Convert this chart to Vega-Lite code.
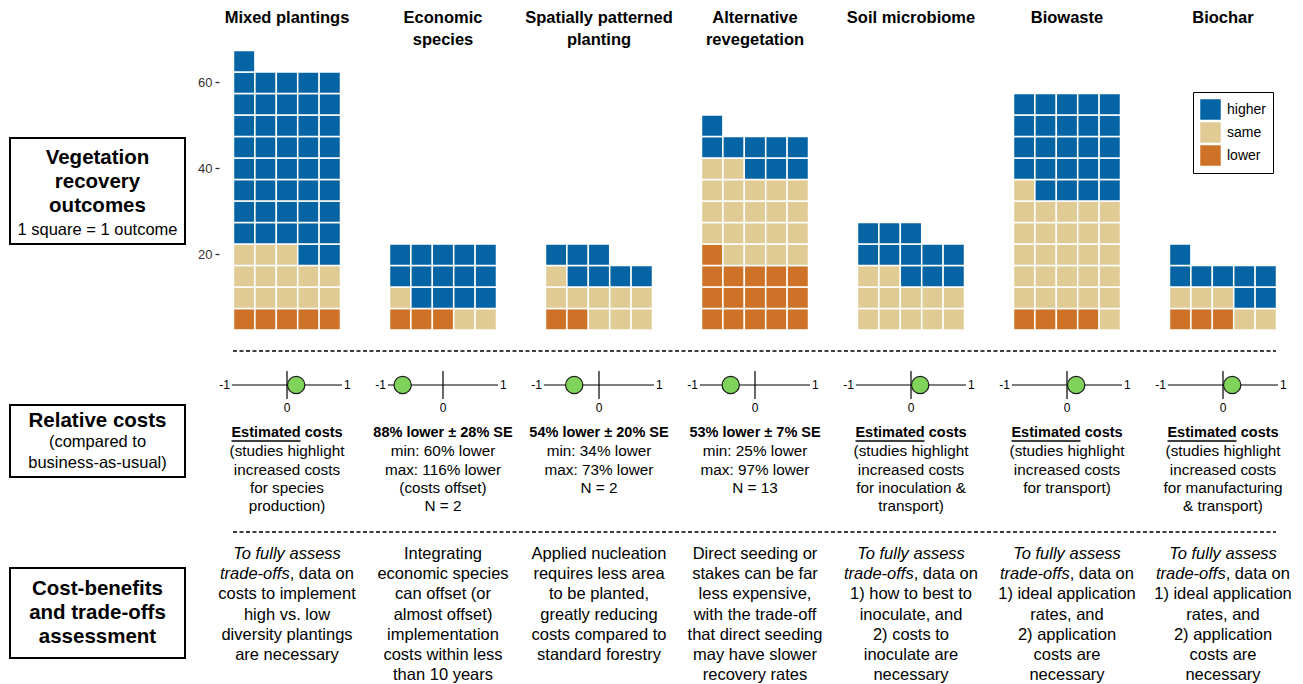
{
"$schema":"https://vega.github.io/schema/vega-lite/v6.json",
"width":1303,"height":684,"padding":0,"autosize":{"type":"none"},
"background":"white",
"config":{"view":{"stroke":null},"font":"Liberation Sans","text":{"font":"Liberation Sans","color":"black"}},
"datasets":{
"cells":[
{"m":"Mixed plantings","r":1,"c":1,"k":"lower"},{"m":"Mixed plantings","r":1,"c":2,"k":"lower"},{"m":"Mixed plantings","r":1,"c":3,"k":"lower"},{"m":"Mixed plantings","r":1,"c":4,"k":"lower"},{"m":"Mixed plantings","r":1,"c":5,"k":"lower"},
{"m":"Mixed plantings","r":2,"c":1,"k":"same"},{"m":"Mixed plantings","r":2,"c":2,"k":"same"},{"m":"Mixed plantings","r":2,"c":3,"k":"same"},{"m":"Mixed plantings","r":2,"c":4,"k":"same"},{"m":"Mixed plantings","r":2,"c":5,"k":"same"},
{"m":"Mixed plantings","r":3,"c":1,"k":"same"},{"m":"Mixed plantings","r":3,"c":2,"k":"same"},{"m":"Mixed plantings","r":3,"c":3,"k":"same"},{"m":"Mixed plantings","r":3,"c":4,"k":"same"},{"m":"Mixed plantings","r":3,"c":5,"k":"same"},
{"m":"Mixed plantings","r":4,"c":1,"k":"same"},{"m":"Mixed plantings","r":4,"c":2,"k":"same"},{"m":"Mixed plantings","r":4,"c":3,"k":"same"},{"m":"Mixed plantings","r":4,"c":4,"k":"higher"},{"m":"Mixed plantings","r":4,"c":5,"k":"higher"},
{"m":"Mixed plantings","r":5,"c":1,"k":"higher"},{"m":"Mixed plantings","r":5,"c":2,"k":"higher"},{"m":"Mixed plantings","r":5,"c":3,"k":"higher"},{"m":"Mixed plantings","r":5,"c":4,"k":"higher"},{"m":"Mixed plantings","r":5,"c":5,"k":"higher"},
{"m":"Mixed plantings","r":6,"c":1,"k":"higher"},{"m":"Mixed plantings","r":6,"c":2,"k":"higher"},{"m":"Mixed plantings","r":6,"c":3,"k":"higher"},{"m":"Mixed plantings","r":6,"c":4,"k":"higher"},{"m":"Mixed plantings","r":6,"c":5,"k":"higher"},
{"m":"Mixed plantings","r":7,"c":1,"k":"higher"},{"m":"Mixed plantings","r":7,"c":2,"k":"higher"},{"m":"Mixed plantings","r":7,"c":3,"k":"higher"},{"m":"Mixed plantings","r":7,"c":4,"k":"higher"},{"m":"Mixed plantings","r":7,"c":5,"k":"higher"},
{"m":"Mixed plantings","r":8,"c":1,"k":"higher"},{"m":"Mixed plantings","r":8,"c":2,"k":"higher"},{"m":"Mixed plantings","r":8,"c":3,"k":"higher"},{"m":"Mixed plantings","r":8,"c":4,"k":"higher"},{"m":"Mixed plantings","r":8,"c":5,"k":"higher"},
{"m":"Mixed plantings","r":9,"c":1,"k":"higher"},{"m":"Mixed plantings","r":9,"c":2,"k":"higher"},{"m":"Mixed plantings","r":9,"c":3,"k":"higher"},{"m":"Mixed plantings","r":9,"c":4,"k":"higher"},{"m":"Mixed plantings","r":9,"c":5,"k":"higher"},
{"m":"Mixed plantings","r":10,"c":1,"k":"higher"},{"m":"Mixed plantings","r":10,"c":2,"k":"higher"},{"m":"Mixed plantings","r":10,"c":3,"k":"higher"},{"m":"Mixed plantings","r":10,"c":4,"k":"higher"},{"m":"Mixed plantings","r":10,"c":5,"k":"higher"},
{"m":"Mixed plantings","r":11,"c":1,"k":"higher"},{"m":"Mixed plantings","r":11,"c":2,"k":"higher"},{"m":"Mixed plantings","r":11,"c":3,"k":"higher"},{"m":"Mixed plantings","r":11,"c":4,"k":"higher"},{"m":"Mixed plantings","r":11,"c":5,"k":"higher"},
{"m":"Mixed plantings","r":12,"c":1,"k":"higher"},{"m":"Mixed plantings","r":12,"c":2,"k":"higher"},{"m":"Mixed plantings","r":12,"c":3,"k":"higher"},{"m":"Mixed plantings","r":12,"c":4,"k":"higher"},{"m":"Mixed plantings","r":12,"c":5,"k":"higher"},
{"m":"Mixed plantings","r":13,"c":1,"k":"higher"},
{"m":"Economic species","r":1,"c":1,"k":"lower"},{"m":"Economic species","r":1,"c":2,"k":"lower"},{"m":"Economic species","r":1,"c":3,"k":"lower"},{"m":"Economic species","r":1,"c":4,"k":"same"},{"m":"Economic species","r":1,"c":5,"k":"same"},
{"m":"Economic species","r":2,"c":1,"k":"same"},{"m":"Economic species","r":2,"c":2,"k":"higher"},{"m":"Economic species","r":2,"c":3,"k":"higher"},{"m":"Economic species","r":2,"c":4,"k":"higher"},{"m":"Economic species","r":2,"c":5,"k":"higher"},
{"m":"Economic species","r":3,"c":1,"k":"higher"},{"m":"Economic species","r":3,"c":2,"k":"higher"},{"m":"Economic species","r":3,"c":3,"k":"higher"},{"m":"Economic species","r":3,"c":4,"k":"higher"},{"m":"Economic species","r":3,"c":5,"k":"higher"},
{"m":"Economic species","r":4,"c":1,"k":"higher"},{"m":"Economic species","r":4,"c":2,"k":"higher"},{"m":"Economic species","r":4,"c":3,"k":"higher"},{"m":"Economic species","r":4,"c":4,"k":"higher"},{"m":"Economic species","r":4,"c":5,"k":"higher"},
{"m":"Spatially patterned planting","r":1,"c":1,"k":"lower"},{"m":"Spatially patterned planting","r":1,"c":2,"k":"lower"},{"m":"Spatially patterned planting","r":1,"c":3,"k":"same"},{"m":"Spatially patterned planting","r":1,"c":4,"k":"same"},{"m":"Spatially patterned planting","r":1,"c":5,"k":"same"},
{"m":"Spatially patterned planting","r":2,"c":1,"k":"same"},{"m":"Spatially patterned planting","r":2,"c":2,"k":"same"},{"m":"Spatially patterned planting","r":2,"c":3,"k":"same"},{"m":"Spatially patterned planting","r":2,"c":4,"k":"same"},{"m":"Spatially patterned planting","r":2,"c":5,"k":"same"},
{"m":"Spatially patterned planting","r":3,"c":1,"k":"same"},{"m":"Spatially patterned planting","r":3,"c":2,"k":"higher"},{"m":"Spatially patterned planting","r":3,"c":3,"k":"higher"},{"m":"Spatially patterned planting","r":3,"c":4,"k":"higher"},{"m":"Spatially patterned planting","r":3,"c":5,"k":"higher"},
{"m":"Spatially patterned planting","r":4,"c":1,"k":"higher"},{"m":"Spatially patterned planting","r":4,"c":2,"k":"higher"},{"m":"Spatially patterned planting","r":4,"c":3,"k":"higher"},
{"m":"Alternative revegetation","r":1,"c":1,"k":"lower"},{"m":"Alternative revegetation","r":1,"c":2,"k":"lower"},{"m":"Alternative revegetation","r":1,"c":3,"k":"lower"},{"m":"Alternative revegetation","r":1,"c":4,"k":"lower"},{"m":"Alternative revegetation","r":1,"c":5,"k":"lower"},
{"m":"Alternative revegetation","r":2,"c":1,"k":"lower"},{"m":"Alternative revegetation","r":2,"c":2,"k":"lower"},{"m":"Alternative revegetation","r":2,"c":3,"k":"lower"},{"m":"Alternative revegetation","r":2,"c":4,"k":"lower"},{"m":"Alternative revegetation","r":2,"c":5,"k":"lower"},
{"m":"Alternative revegetation","r":3,"c":1,"k":"lower"},{"m":"Alternative revegetation","r":3,"c":2,"k":"lower"},{"m":"Alternative revegetation","r":3,"c":3,"k":"lower"},{"m":"Alternative revegetation","r":3,"c":4,"k":"lower"},{"m":"Alternative revegetation","r":3,"c":5,"k":"lower"},
{"m":"Alternative revegetation","r":4,"c":1,"k":"lower"},{"m":"Alternative revegetation","r":4,"c":2,"k":"same"},{"m":"Alternative revegetation","r":4,"c":3,"k":"same"},{"m":"Alternative revegetation","r":4,"c":4,"k":"same"},{"m":"Alternative revegetation","r":4,"c":5,"k":"same"},
{"m":"Alternative revegetation","r":5,"c":1,"k":"same"},{"m":"Alternative revegetation","r":5,"c":2,"k":"same"},{"m":"Alternative revegetation","r":5,"c":3,"k":"same"},{"m":"Alternative revegetation","r":5,"c":4,"k":"same"},{"m":"Alternative revegetation","r":5,"c":5,"k":"same"},
{"m":"Alternative revegetation","r":6,"c":1,"k":"same"},{"m":"Alternative revegetation","r":6,"c":2,"k":"same"},{"m":"Alternative revegetation","r":6,"c":3,"k":"same"},{"m":"Alternative revegetation","r":6,"c":4,"k":"same"},{"m":"Alternative revegetation","r":6,"c":5,"k":"same"},
{"m":"Alternative revegetation","r":7,"c":1,"k":"same"},{"m":"Alternative revegetation","r":7,"c":2,"k":"same"},{"m":"Alternative revegetation","r":7,"c":3,"k":"same"},{"m":"Alternative revegetation","r":7,"c":4,"k":"same"},{"m":"Alternative revegetation","r":7,"c":5,"k":"same"},
{"m":"Alternative revegetation","r":8,"c":1,"k":"same"},{"m":"Alternative revegetation","r":8,"c":2,"k":"same"},{"m":"Alternative revegetation","r":8,"c":3,"k":"higher"},{"m":"Alternative revegetation","r":8,"c":4,"k":"higher"},{"m":"Alternative revegetation","r":8,"c":5,"k":"higher"},
{"m":"Alternative revegetation","r":9,"c":1,"k":"higher"},{"m":"Alternative revegetation","r":9,"c":2,"k":"higher"},{"m":"Alternative revegetation","r":9,"c":3,"k":"higher"},{"m":"Alternative revegetation","r":9,"c":4,"k":"higher"},{"m":"Alternative revegetation","r":9,"c":5,"k":"higher"},
{"m":"Alternative revegetation","r":10,"c":1,"k":"higher"},
{"m":"Soil microbiome","r":1,"c":1,"k":"same"},{"m":"Soil microbiome","r":1,"c":2,"k":"same"},{"m":"Soil microbiome","r":1,"c":3,"k":"same"},{"m":"Soil microbiome","r":1,"c":4,"k":"same"},{"m":"Soil microbiome","r":1,"c":5,"k":"same"},
{"m":"Soil microbiome","r":2,"c":1,"k":"same"},{"m":"Soil microbiome","r":2,"c":2,"k":"same"},{"m":"Soil microbiome","r":2,"c":3,"k":"same"},{"m":"Soil microbiome","r":2,"c":4,"k":"same"},{"m":"Soil microbiome","r":2,"c":5,"k":"same"},
{"m":"Soil microbiome","r":3,"c":1,"k":"same"},{"m":"Soil microbiome","r":3,"c":2,"k":"same"},{"m":"Soil microbiome","r":3,"c":3,"k":"higher"},{"m":"Soil microbiome","r":3,"c":4,"k":"higher"},{"m":"Soil microbiome","r":3,"c":5,"k":"higher"},
{"m":"Soil microbiome","r":4,"c":1,"k":"higher"},{"m":"Soil microbiome","r":4,"c":2,"k":"higher"},{"m":"Soil microbiome","r":4,"c":3,"k":"higher"},{"m":"Soil microbiome","r":4,"c":4,"k":"higher"},{"m":"Soil microbiome","r":4,"c":5,"k":"higher"},
{"m":"Soil microbiome","r":5,"c":1,"k":"higher"},{"m":"Soil microbiome","r":5,"c":2,"k":"higher"},{"m":"Soil microbiome","r":5,"c":3,"k":"higher"},
{"m":"Biowaste","r":1,"c":1,"k":"lower"},{"m":"Biowaste","r":1,"c":2,"k":"lower"},{"m":"Biowaste","r":1,"c":3,"k":"lower"},{"m":"Biowaste","r":1,"c":4,"k":"lower"},{"m":"Biowaste","r":1,"c":5,"k":"same"},
{"m":"Biowaste","r":2,"c":1,"k":"same"},{"m":"Biowaste","r":2,"c":2,"k":"same"},{"m":"Biowaste","r":2,"c":3,"k":"same"},{"m":"Biowaste","r":2,"c":4,"k":"same"},{"m":"Biowaste","r":2,"c":5,"k":"same"},
{"m":"Biowaste","r":3,"c":1,"k":"same"},{"m":"Biowaste","r":3,"c":2,"k":"same"},{"m":"Biowaste","r":3,"c":3,"k":"same"},{"m":"Biowaste","r":3,"c":4,"k":"same"},{"m":"Biowaste","r":3,"c":5,"k":"same"},
{"m":"Biowaste","r":4,"c":1,"k":"same"},{"m":"Biowaste","r":4,"c":2,"k":"same"},{"m":"Biowaste","r":4,"c":3,"k":"same"},{"m":"Biowaste","r":4,"c":4,"k":"same"},{"m":"Biowaste","r":4,"c":5,"k":"same"},
{"m":"Biowaste","r":5,"c":1,"k":"same"},{"m":"Biowaste","r":5,"c":2,"k":"same"},{"m":"Biowaste","r":5,"c":3,"k":"same"},{"m":"Biowaste","r":5,"c":4,"k":"same"},{"m":"Biowaste","r":5,"c":5,"k":"same"},
{"m":"Biowaste","r":6,"c":1,"k":"same"},{"m":"Biowaste","r":6,"c":2,"k":"same"},{"m":"Biowaste","r":6,"c":3,"k":"same"},{"m":"Biowaste","r":6,"c":4,"k":"same"},{"m":"Biowaste","r":6,"c":5,"k":"same"},
{"m":"Biowaste","r":7,"c":1,"k":"same"},{"m":"Biowaste","r":7,"c":2,"k":"higher"},{"m":"Biowaste","r":7,"c":3,"k":"higher"},{"m":"Biowaste","r":7,"c":4,"k":"higher"},{"m":"Biowaste","r":7,"c":5,"k":"higher"},
{"m":"Biowaste","r":8,"c":1,"k":"higher"},{"m":"Biowaste","r":8,"c":2,"k":"higher"},{"m":"Biowaste","r":8,"c":3,"k":"higher"},{"m":"Biowaste","r":8,"c":4,"k":"higher"},{"m":"Biowaste","r":8,"c":5,"k":"higher"},
{"m":"Biowaste","r":9,"c":1,"k":"higher"},{"m":"Biowaste","r":9,"c":2,"k":"higher"},{"m":"Biowaste","r":9,"c":3,"k":"higher"},{"m":"Biowaste","r":9,"c":4,"k":"higher"},{"m":"Biowaste","r":9,"c":5,"k":"higher"},
{"m":"Biowaste","r":10,"c":1,"k":"higher"},{"m":"Biowaste","r":10,"c":2,"k":"higher"},{"m":"Biowaste","r":10,"c":3,"k":"higher"},{"m":"Biowaste","r":10,"c":4,"k":"higher"},{"m":"Biowaste","r":10,"c":5,"k":"higher"},
{"m":"Biowaste","r":11,"c":1,"k":"higher"},{"m":"Biowaste","r":11,"c":2,"k":"higher"},{"m":"Biowaste","r":11,"c":3,"k":"higher"},{"m":"Biowaste","r":11,"c":4,"k":"higher"},{"m":"Biowaste","r":11,"c":5,"k":"higher"},
{"m":"Biochar","r":1,"c":1,"k":"lower"},{"m":"Biochar","r":1,"c":2,"k":"lower"},{"m":"Biochar","r":1,"c":3,"k":"lower"},{"m":"Biochar","r":1,"c":4,"k":"same"},{"m":"Biochar","r":1,"c":5,"k":"same"},
{"m":"Biochar","r":2,"c":1,"k":"same"},{"m":"Biochar","r":2,"c":2,"k":"same"},{"m":"Biochar","r":2,"c":3,"k":"same"},{"m":"Biochar","r":2,"c":4,"k":"higher"},{"m":"Biochar","r":2,"c":5,"k":"higher"},
{"m":"Biochar","r":3,"c":1,"k":"higher"},{"m":"Biochar","r":3,"c":2,"k":"higher"},{"m":"Biochar","r":3,"c":3,"k":"higher"},{"m":"Biochar","r":3,"c":4,"k":"higher"},{"m":"Biochar","r":3,"c":5,"k":"higher"},
{"m":"Biochar","r":4,"c":1,"k":"higher"}
],
"titles":[
{"m":"Mixed plantings","line":1,"t":"Mixed plantings"},
{"m":"Economic species","line":1,"t":"Economic"},{"m":"Economic species","line":2,"t":"species"},
{"m":"Spatially patterned planting","line":1,"t":"Spatially patterned"},{"m":"Spatially patterned planting","line":2,"t":"planting"},
{"m":"Alternative revegetation","line":1,"t":"Alternative"},{"m":"Alternative revegetation","line":2,"t":"revegetation"},
{"m":"Soil microbiome","line":1,"t":"Soil microbiome"},
{"m":"Biowaste","line":1,"t":"Biowaste"},
{"m":"Biochar","line":1,"t":"Biochar"}
],
"costs":[
{"m":"Mixed plantings","v":0.2,"head":"Estimated costs"},
{"m":"Economic species","v":-0.88,"head":"88% lower ± 28% SE"},
{"m":"Spatially patterned planting","v":-0.54,"head":"54% lower ± 20% SE"},
{"m":"Alternative revegetation","v":-0.53,"head":"53% lower ± 7% SE"},
{"m":"Soil microbiome","v":0.2,"head":"Estimated costs"},
{"m":"Biowaste","v":0.2,"head":"Estimated costs"},
{"m":"Biochar","v":0.2,"head":"Estimated costs"}
],
"costBody":[
{"m":"Mixed plantings","line":2,"t":"(studies highlight"},{"m":"Mixed plantings","line":3,"t":"increased costs"},{"m":"Mixed plantings","line":4,"t":"for species"},{"m":"Mixed plantings","line":5,"t":"production)"},
{"m":"Economic species","line":2,"t":"min: 60% lower"},{"m":"Economic species","line":3,"t":"max: 116% lower"},{"m":"Economic species","line":4,"t":"(costs offset)"},{"m":"Economic species","line":5,"t":"N = 2"},
{"m":"Spatially patterned planting","line":2,"t":"min: 34% lower"},{"m":"Spatially patterned planting","line":3,"t":"max: 73% lower"},{"m":"Spatially patterned planting","line":4,"t":"N = 2"},
{"m":"Alternative revegetation","line":2,"t":"min: 25% lower"},{"m":"Alternative revegetation","line":3,"t":"max: 97% lower"},{"m":"Alternative revegetation","line":4,"t":"N = 13"},
{"m":"Soil microbiome","line":2,"t":"(studies highlight"},{"m":"Soil microbiome","line":3,"t":"increased costs"},{"m":"Soil microbiome","line":4,"t":"for inoculation &"},{"m":"Soil microbiome","line":5,"t":"transport)"},
{"m":"Biowaste","line":2,"t":"(studies highlight"},{"m":"Biowaste","line":3,"t":"increased costs"},{"m":"Biowaste","line":4,"t":"for transport)"},
{"m":"Biochar","line":2,"t":"(studies highlight"},{"m":"Biochar","line":3,"t":"increased costs"},{"m":"Biochar","line":4,"t":"for manufacturing"},{"m":"Biochar","line":5,"t":"& transport)"}
],
"notes":[
{"m":"Mixed plantings","line":1,"e":"To fully assess","t":""},{"m":"Mixed plantings","line":2,"e":"trade-offs","t":", data on"},{"m":"Mixed plantings","line":3,"e":"","t":"costs to implement"},{"m":"Mixed plantings","line":4,"e":"","t":"high vs. low"},{"m":"Mixed plantings","line":5,"e":"","t":"diversity plantings"},{"m":"Mixed plantings","line":6,"e":"","t":"are necessary"},
{"m":"Economic species","line":1,"e":"","t":"Integrating"},{"m":"Economic species","line":2,"e":"","t":"economic species"},{"m":"Economic species","line":3,"e":"","t":"can offset (or"},{"m":"Economic species","line":4,"e":"","t":"almost offset)"},{"m":"Economic species","line":5,"e":"","t":"implementation"},{"m":"Economic species","line":6,"e":"","t":"costs within less"},{"m":"Economic species","line":7,"e":"","t":"than 10 years"},
{"m":"Spatially patterned planting","line":1,"e":"","t":"Applied nucleation"},{"m":"Spatially patterned planting","line":2,"e":"","t":"requires less area"},{"m":"Spatially patterned planting","line":3,"e":"","t":"to be planted,"},{"m":"Spatially patterned planting","line":4,"e":"","t":"greatly reducing"},{"m":"Spatially patterned planting","line":5,"e":"","t":"costs compared to"},{"m":"Spatially patterned planting","line":6,"e":"","t":"standard forestry"},
{"m":"Alternative revegetation","line":1,"e":"","t":"Direct seeding or"},{"m":"Alternative revegetation","line":2,"e":"","t":"stakes can be far"},{"m":"Alternative revegetation","line":3,"e":"","t":"less expensive,"},{"m":"Alternative revegetation","line":4,"e":"","t":"with the trade-off"},{"m":"Alternative revegetation","line":5,"e":"","t":"that direct seeding"},{"m":"Alternative revegetation","line":6,"e":"","t":"may have slower"},{"m":"Alternative revegetation","line":7,"e":"","t":"recovery rates"},
{"m":"Soil microbiome","line":1,"e":"To fully assess","t":""},{"m":"Soil microbiome","line":2,"e":"trade-offs","t":", data on"},{"m":"Soil microbiome","line":3,"e":"","t":"1) how to best to"},{"m":"Soil microbiome","line":4,"e":"","t":"inoculate, and"},{"m":"Soil microbiome","line":5,"e":"","t":"2) costs to"},{"m":"Soil microbiome","line":6,"e":"","t":"inoculate are"},{"m":"Soil microbiome","line":7,"e":"","t":"necessary"},
{"m":"Biowaste","line":1,"e":"To fully assess","t":""},{"m":"Biowaste","line":2,"e":"trade-offs","t":", data on"},{"m":"Biowaste","line":3,"e":"","t":"1) ideal application"},{"m":"Biowaste","line":4,"e":"","t":"rates, and"},{"m":"Biowaste","line":5,"e":"","t":"2) application"},{"m":"Biowaste","line":6,"e":"","t":"costs are"},{"m":"Biowaste","line":7,"e":"","t":"necessary"},
{"m":"Biochar","line":1,"e":"To fully assess","t":""},{"m":"Biochar","line":2,"e":"trade-offs","t":", data on"},{"m":"Biochar","line":3,"e":"","t":"1) ideal application"},{"m":"Biochar","line":4,"e":"","t":"rates, and"},{"m":"Biochar","line":5,"e":"","t":"2) application"},{"m":"Biochar","line":6,"e":"","t":"costs are"},{"m":"Biochar","line":7,"e":"","t":"necessary"}
],
"boxes":[
{"b":1,"line":1,"t":"Vegetation","role":"heading"},{"b":1,"line":2,"t":"recovery","role":"heading"},{"b":1,"line":3,"t":"outcomes","role":"heading"},{"b":1,"line":4,"t":"1 square = 1 outcome","role":"note"},
{"b":2,"line":1,"t":"Relative costs","role":"heading"},{"b":2,"line":2,"t":"(compared to","role":"note"},{"b":2,"line":3,"t":"business-as-usual)","role":"note"},
{"b":3,"line":1,"t":"Cost-benefits","role":"heading"},{"b":3,"line":2,"t":"and trade-offs","role":"heading"},{"b":3,"line":3,"t":"assessment","role":"heading"}
],
"separators":[{"s":"outcomes | costs"},{"s":"costs | trade-offs"}]
},
"layer":[
{"data":{"name":"cells"},"mark":{"type":"rect","stroke":"white","strokeWidth":1.5},
 "encoding":{
  "x":{"field":"m","type":"nominal","scale":{"type":"band","domain":["Mixed plantings","Economic species","Spatially patterned planting","Alternative revegetation","Soil microbiome","Biowaste","Biochar"],"range":[209,1301],"paddingInner":0.314,"paddingOuter":0.157},"axis":null},
  "xOffset":{"field":"c","type":"ordinal","scale":{"type":"band","domain":[1,2,3,4,5],"paddingInner":0,"paddingOuter":0}},
  "y":{"field":"r","type":"ordinal","scale":{"type":"band","domain":[13,12,11,10,9,8,7,6,5,4,3,2,1],"range":[50.5,330],"paddingInner":0,"paddingOuter":0},
       "axis":{"values":[4,8,12],"labelExpr":"datum.value * 5","orient":"left","offset":-219,"domain":false,"grid":false,"ticks":true,"tickSize":4,"tickColor":"#333333","tickWidth":1.3,"labelColor":"#333333","labelFontSize":13,"labelFont":"Liberation Sans","labelPadding":3,"title":null}},
  "color":{"field":"k","type":"nominal","scale":{"domain":["higher","same","lower"],"range":["#0565A4","#E0CB94","#CD7226"]},
       "legend":{"orient":"none","legendX":1193,"legendY":92,"title":null,"symbolType":"square","symbolSize":420,"symbolStrokeWidth":0,"symbolOpacity":1,"labelFontSize":14,"labelFont":"Liberation Sans","labelColor":"black","strokeColor":"black","fillColor":"white","padding":7,"rowPadding":2,"labelOffset":6}}
 }},
{"data":{"name":"titles"},"mark":{"type":"text","fontWeight":"bold","fontSize":16.5,"font":"Liberation Sans"},
 "encoding":{
  "x":{"field":"m","type":"nominal","scale":{"type":"band","domain":["Mixed plantings","Economic species","Spatially patterned planting","Alternative revegetation","Soil microbiome","Biowaste","Biochar"],"range":[209,1301],"paddingInner":0.314,"paddingOuter":0.157},"axis":null},
  "y":{"field":"line","type":"quantitative","scale":{"domain":[1,2],"range":[18,40],"nice":false,"zero":false},"axis":null},
  "text":{"field":"t"}
 }},
{"data":{"name":"separators"},"mark":{"type":"rule","strokeDash":[4,2.5],"strokeWidth":1.3,"color":"black"},
 "encoding":{
  "x":{"datum":0,"type":"quantitative","scale":{"domain":[0,1],"range":[233,1276],"nice":false,"zero":false},"axis":null},
  "x2":{"datum":1},
  "y":{"field":"s","type":"nominal","scale":{"type":"point","domain":["outcomes | costs","costs | trade-offs"],"range":[351,532],"padding":0},"axis":null}
 }},
{"data":{"name":"costs"},"mark":{"type":"tick","orient":"horizontal","size":110,"thickness":1.2,"color":"black","opacity":1},
 "encoding":{
  "x":{"field":"m","type":"nominal","scale":{"type":"band","domain":["Mixed plantings","Economic species","Spatially patterned planting","Alternative revegetation","Soil microbiome","Biowaste","Biochar"],"range":[209,1301],"paddingInner":0.314,"paddingOuter":0.157},"axis":null},
  "y":{"datum":0,"type":"quantitative","scale":{"domain":[-1,1],"range":[399,371],"nice":false,"zero":false},"axis":null}
 }},
{"data":{"name":"costs"},"mark":{"type":"rule","strokeWidth":1.2,"color":"black"},
 "encoding":{
  "x":{"field":"m","type":"nominal","scale":{"type":"band","domain":["Mixed plantings","Economic species","Spatially patterned planting","Alternative revegetation","Soil microbiome","Biowaste","Biochar"],"range":[209,1301],"paddingInner":0.314,"paddingOuter":0.157},"axis":null},
  "y":{"datum":-1,"type":"quantitative","scale":{"domain":[-1,1],"range":[399,371],"nice":false,"zero":false},"axis":null},
  "y2":{"datum":1}
 }},
{"data":{"name":"costs"},"mark":{"type":"text","align":"right","dx":-57,"fontSize":12,"font":"Liberation Sans"},
 "encoding":{
  "x":{"field":"m","type":"nominal","scale":{"type":"band","domain":["Mixed plantings","Economic species","Spatially patterned planting","Alternative revegetation","Soil microbiome","Biowaste","Biochar"],"range":[209,1301],"paddingInner":0.314,"paddingOuter":0.157},"axis":null},
  "y":{"datum":0,"type":"quantitative","scale":{"domain":[-1,1],"range":[399,371],"nice":false,"zero":false},"axis":null},
  "text":{"value":"-1"}
 }},
{"data":{"name":"costs"},"mark":{"type":"text","align":"left","dx":57,"fontSize":12,"font":"Liberation Sans"},
 "encoding":{
  "x":{"field":"m","type":"nominal","scale":{"type":"band","domain":["Mixed plantings","Economic species","Spatially patterned planting","Alternative revegetation","Soil microbiome","Biowaste","Biochar"],"range":[209,1301],"paddingInner":0.314,"paddingOuter":0.157},"axis":null},
  "y":{"datum":0,"type":"quantitative","scale":{"domain":[-1,1],"range":[399,371],"nice":false,"zero":false},"axis":null},
  "text":{"value":"1"}
 }},
{"data":{"name":"costs"},"mark":{"type":"text","baseline":"top","dy":4,"fontSize":12,"font":"Liberation Sans"},
 "encoding":{
  "x":{"field":"m","type":"nominal","scale":{"type":"band","domain":["Mixed plantings","Economic species","Spatially patterned planting","Alternative revegetation","Soil microbiome","Biowaste","Biochar"],"range":[209,1301],"paddingInner":0.314,"paddingOuter":0.157},"axis":null},
  "y":{"datum":-1,"type":"quantitative","scale":{"domain":[-1,1],"range":[399,371],"nice":false,"zero":false},"axis":null},
  "text":{"value":"0"}
 }},
{"data":{"name":"costs"},"mark":{"type":"circle","size":300,"fill":"#80D35A","stroke":"#1a1a1a","strokeWidth":1.2,"opacity":1},
 "encoding":{
  "x":{"field":"m","type":"nominal","scale":{"type":"band","domain":["Mixed plantings","Economic species","Spatially patterned planting","Alternative revegetation","Soil microbiome","Biowaste","Biochar"],"range":[209,1301],"paddingInner":0.314,"paddingOuter":0.157},"axis":null},
  "xOffset":{"field":"v","type":"quantitative","scale":{"domain":[-1.167,1.167],"nice":false,"zero":false}},
  "y":{"datum":0,"type":"quantitative","scale":{"domain":[-1,1],"range":[399,371],"nice":false,"zero":false},"axis":null}
 }},
{"data":{"name":"costs"},"mark":{"type":"text","fontWeight":"bold","fontSize":14.5,"font":"Liberation Sans"},
 "encoding":{
  "x":{"field":"m","type":"nominal","scale":{"type":"band","domain":["Mixed plantings","Economic species","Spatially patterned planting","Alternative revegetation","Soil microbiome","Biowaste","Biochar"],"range":[209,1301],"paddingInner":0.314,"paddingOuter":0.157},"axis":null},
  "y":{"datum":1,"type":"quantitative","scale":{"domain":[1,5],"range":[433,506],"nice":false,"zero":false},"axis":null},
  "text":{"field":"head"}
 }},
{"data":{"name":"costs"},"transform":[{"filter":"indexof(datum.head, 'Estimated') == 0"}],
 "mark":{"type":"tick","orient":"horizontal","size":69,"thickness":1.3,"color":"black","opacity":1,"xOffset":-21,"yOffset":8},
 "encoding":{
  "x":{"field":"m","type":"nominal","scale":{"type":"band","domain":["Mixed plantings","Economic species","Spatially patterned planting","Alternative revegetation","Soil microbiome","Biowaste","Biochar"],"range":[209,1301],"paddingInner":0.314,"paddingOuter":0.157},"axis":null},
  "y":{"datum":1,"type":"quantitative","scale":{"domain":[1,5],"range":[433,506],"nice":false,"zero":false},"axis":null}
 }},
{"data":{"name":"costBody"},"mark":{"type":"text","fontSize":15.3,"font":"Liberation Sans"},
 "encoding":{
  "x":{"field":"m","type":"nominal","scale":{"type":"band","domain":["Mixed plantings","Economic species","Spatially patterned planting","Alternative revegetation","Soil microbiome","Biowaste","Biochar"],"range":[209,1301],"paddingInner":0.314,"paddingOuter":0.157},"axis":null},
  "y":{"field":"line","type":"quantitative","scale":{"domain":[1,5],"range":[433,506],"nice":false,"zero":false},"axis":null},
  "text":{"field":"t"}
 }},
{"data":{"name":"notes"},"transform":[{"filter":"datum.e == ''"}],"mark":{"type":"text","fontSize":16.5,"font":"Liberation Sans"},
 "encoding":{
  "x":{"field":"m","type":"nominal","scale":{"type":"band","domain":["Mixed plantings","Economic species","Spatially patterned planting","Alternative revegetation","Soil microbiome","Biowaste","Biochar"],"range":[209,1301],"paddingInner":0.314,"paddingOuter":0.157},"axis":null},
  "y":{"field":"line","type":"quantitative","scale":{"domain":[1,7],"range":[554,675],"nice":false,"zero":false},"axis":null},
  "text":{"field":"t"}
 }},
{"data":{"name":"notes"},"transform":[{"filter":"datum.t == ''"}],"mark":{"type":"text","fontSize":16.5,"fontStyle":"italic","font":"Liberation Sans"},
 "encoding":{
  "x":{"field":"m","type":"nominal","scale":{"type":"band","domain":["Mixed plantings","Economic species","Spatially patterned planting","Alternative revegetation","Soil microbiome","Biowaste","Biochar"],"range":[209,1301],"paddingInner":0.314,"paddingOuter":0.157},"axis":null},
  "y":{"field":"line","type":"quantitative","scale":{"domain":[1,7],"range":[554,675],"nice":false,"zero":false},"axis":null},
  "text":{"field":"e"}
 }},
{"data":{"name":"notes"},"transform":[{"filter":"datum.e != '' && datum.t != ''"}],"mark":{"type":"text","fontSize":16.5,"fontStyle":"italic","align":"right","dx":2.7,"font":"Liberation Sans"},
 "encoding":{
  "x":{"field":"m","type":"nominal","scale":{"type":"band","domain":["Mixed plantings","Economic species","Spatially patterned planting","Alternative revegetation","Soil microbiome","Biowaste","Biochar"],"range":[209,1301],"paddingInner":0.314,"paddingOuter":0.157},"axis":null},
  "y":{"field":"line","type":"quantitative","scale":{"domain":[1,7],"range":[554,675],"nice":false,"zero":false},"axis":null},
  "text":{"field":"e"}
 }},
{"data":{"name":"notes"},"transform":[{"filter":"datum.e != '' && datum.t != ''"}],"mark":{"type":"text","fontSize":16.5,"align":"left","dx":2.7,"font":"Liberation Sans"},
 "encoding":{
  "x":{"field":"m","type":"nominal","scale":{"type":"band","domain":["Mixed plantings","Economic species","Spatially patterned planting","Alternative revegetation","Soil microbiome","Biowaste","Biochar"],"range":[209,1301],"paddingInner":0.314,"paddingOuter":0.157},"axis":null},
  "y":{"field":"line","type":"quantitative","scale":{"domain":[1,7],"range":[554,675],"nice":false,"zero":false},"axis":null},
  "text":{"field":"t"}
 }},
{"data":{"name":"boxes"},"transform":[{"filter":"datum.b == 1 && datum.line == 1"}],"mark":{"type":"rect","filled":false,"stroke":"black","strokeWidth":2},
 "encoding":{
  "x":{"datum":0,"type":"quantitative","scale":{"domain":[0,1],"range":[10,185],"nice":false,"zero":false},"axis":null},"x2":{"datum":1},
  "y":{"datum":0,"type":"quantitative","scale":{"domain":[0,1],"range":[138,244],"nice":false,"zero":false},"axis":null},"y2":{"datum":1}
 }},
{"data":{"name":"boxes"},"transform":[{"filter":"datum.b == 1 && datum.role == 'heading'"}],"mark":{"type":"text","fontWeight":"bold","fontSize":20.5,"font":"Liberation Sans"},
 "encoding":{
  "x":{"datum":0.5,"type":"quantitative","scale":{"domain":[0,1],"range":[10,185],"nice":false,"zero":false},"axis":null},
  "y":{"field":"line","type":"quantitative","scale":{"domain":[1,4],"range":[158,230],"nice":false,"zero":false},"axis":null},
  "text":{"field":"t"}
 }},
{"data":{"name":"boxes"},"transform":[{"filter":"datum.b == 1 && datum.role == 'note'"}],"mark":{"type":"text","fontSize":16.5,"font":"Liberation Sans"},
 "encoding":{
  "x":{"datum":0.5,"type":"quantitative","scale":{"domain":[0,1],"range":[10,185],"nice":false,"zero":false},"axis":null},
  "y":{"field":"line","type":"quantitative","scale":{"domain":[1,4],"range":[158,230],"nice":false,"zero":false},"axis":null},
  "text":{"field":"t"}
 }},
{"data":{"name":"boxes"},"transform":[{"filter":"datum.b == 2 && datum.line == 1"}],"mark":{"type":"rect","filled":false,"stroke":"black","strokeWidth":2},
 "encoding":{
  "x":{"datum":0,"type":"quantitative","scale":{"domain":[0,1],"range":[10,185],"nice":false,"zero":false},"axis":null},"x2":{"datum":1},
  "y":{"datum":0,"type":"quantitative","scale":{"domain":[0,1],"range":[405,477],"nice":false,"zero":false},"axis":null},"y2":{"datum":1}
 }},
{"data":{"name":"boxes"},"transform":[{"filter":"datum.b == 2 && datum.role == 'heading'"}],"mark":{"type":"text","fontWeight":"bold","fontSize":20.5,"font":"Liberation Sans"},
 "encoding":{
  "x":{"datum":0.5,"type":"quantitative","scale":{"domain":[0,1],"range":[10,185],"nice":false,"zero":false},"axis":null},
  "y":{"field":"line","type":"quantitative","scale":{"domain":[1,3],"range":[421,463],"nice":false,"zero":false},"axis":null},
  "text":{"field":"t"}
 }},
{"data":{"name":"boxes"},"transform":[{"filter":"datum.b == 2 && datum.role == 'note'"}],"mark":{"type":"text","fontSize":16.5,"font":"Liberation Sans"},
 "encoding":{
  "x":{"datum":0.5,"type":"quantitative","scale":{"domain":[0,1],"range":[10,185],"nice":false,"zero":false},"axis":null},
  "y":{"field":"line","type":"quantitative","scale":{"domain":[1,3],"range":[421,463],"nice":false,"zero":false},"axis":null},
  "text":{"field":"t"}
 }},
{"data":{"name":"boxes"},"transform":[{"filter":"datum.b == 3 && datum.line == 1"}],"mark":{"type":"rect","filled":false,"stroke":"black","strokeWidth":2},
 "encoding":{
  "x":{"datum":0,"type":"quantitative","scale":{"domain":[0,1],"range":[10,185],"nice":false,"zero":false},"axis":null},"x2":{"datum":1},
  "y":{"datum":0,"type":"quantitative","scale":{"domain":[0,1],"range":[568,658],"nice":false,"zero":false},"axis":null},"y2":{"datum":1}
 }},
{"data":{"name":"boxes"},"transform":[{"filter":"datum.b == 3 && datum.role == 'heading'"}],"mark":{"type":"text","fontWeight":"bold","fontSize":20.5,"font":"Liberation Sans"},
 "encoding":{
  "x":{"datum":0.5,"type":"quantitative","scale":{"domain":[0,1],"range":[10,185],"nice":false,"zero":false},"axis":null},
  "y":{"field":"line","type":"quantitative","scale":{"domain":[1,3],"range":[589,637],"nice":false,"zero":false},"axis":null},
  "text":{"field":"t"}
 }}
],
"resolve":{"scale":{"x":"independent","y":"independent","xOffset":"independent","color":"independent"}}
}
